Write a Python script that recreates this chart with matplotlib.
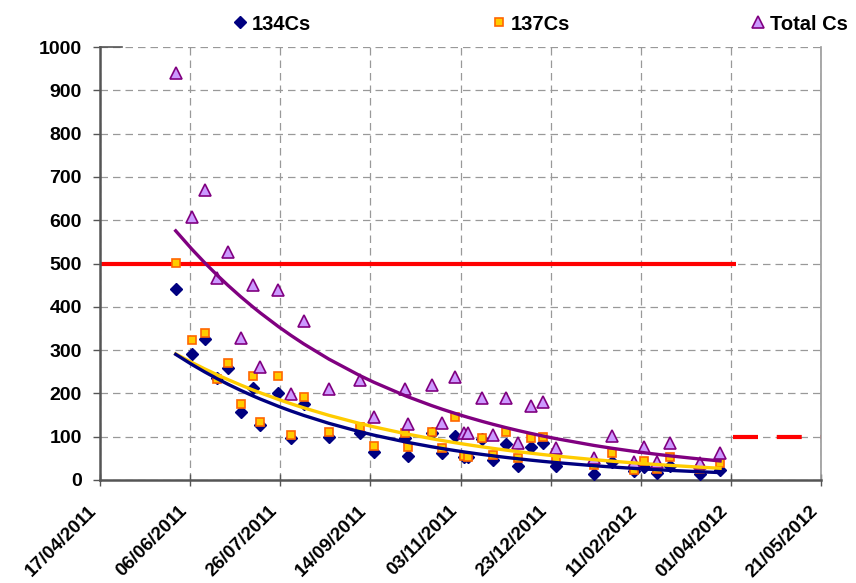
import numpy as np
import pandas as pd
import matplotlib
matplotlib.use("Agg")
import matplotlib.pyplot as plt
import matplotlib.dates as mdates

plt.rcParams["font.family"] = ["Liberation Sans", "DejaVu Sans"]
plt.rcParams["font.weight"] = "bold"

# sampling dates and activities
sample_dates = [
    "2011-05-29", "2011-06-07", "2011-06-14", "2011-06-21", "2011-06-27", "2011-07-04",
    "2011-07-11", "2011-07-15", "2011-07-25", "2011-08-01", "2011-08-08", "2011-08-22",
    "2011-09-08", "2011-09-16", "2011-10-03", "2011-10-05", "2011-10-18", "2011-10-24",
    "2011-10-31", "2011-11-05", "2011-11-07", "2011-11-15", "2011-11-21", "2011-11-28",
    "2011-12-05", "2011-12-12", "2011-12-19", "2011-12-26", "2012-01-16", "2012-01-26",
    "2012-02-07", "2012-02-13", "2012-02-20", "2012-02-27", "2012-03-15", "2012-03-26",
]
cs134 = [441, 291, 325, 235, 259, 157, 212, 127, 201, 97, 176, 99, 108, 65, 97, 55, 108, 62,
         101, 53, 54, 95, 46, 83, 33, 76, 85, 32, 14, 42, 20, 31, 17, 33, 14, 23]
cs137 = [501, 323, 340, 233, 270, 175, 240, 134, 240, 104, 192, 111, 123, 79, 109, 76, 111, 74,
         145, 55, 54, 97, 58, 111, 51, 97, 99, 48, 35, 62, 22, 45, 25, 52, 25, 39]
total_cs = [940, 607, 670, 467, 527, 328, 450, 261, 439, 198, 367, 210, 231, 146, 210, 129, 219, 131,
            238, 108, 108, 190, 104, 190, 85, 171, 180, 74, 50, 102, 42, 76, 42, 85, 39, 62]

# regulatory limits
old_limit_dates = ["2011-04-17", "2012-04-04"]
old_limit = [500, 500]
new_limit_dates = ["2012-04-02", "2012-05-21"]
new_limit = [100, 100]

tick_start = "2011-04-17"
n_ticks = 9

dates = pd.to_datetime(sample_dates)
x = mdates.date2num(dates)


def exp_trend(xv, yv):
    # same as an Excel exponential trendline: linear fit of ln(y)
    b, a = np.polyfit(xv, np.log(yv), 1)
    return np.exp(a + b * xv)


fig = plt.figure(figsize=(8.56, 5.83), dpi=100)
ax = fig.add_axes([100 / 856, 1 - 480 / 583, 721 / 856, 433 / 583])

ax.plot(pd.to_datetime(old_limit_dates), old_limit, color="#FF0000", lw=3, solid_capstyle="butt", zorder=2)
ax.plot(pd.to_datetime(new_limit_dates), new_limit, color="#FF0000", lw=3, dashes=(6, 4.5), zorder=2)

ax.plot(dates, cs134, "D", ms=6.5, color="#000080", mec="#000080", ls="none", label="134Cs", zorder=3)
ax.plot(dates, cs137, "s", ms=6, mfc="#FFCC00", mec="#FF6600", mew=1.2, ls="none", label="137Cs", zorder=4)
ax.plot(dates, total_cs, "^", ms=8, mfc="#CC99FF", mec="#800080", mew=1.2, ls="none", label="Total Cs", zorder=4)

ax.plot(dates, exp_trend(x, cs137), color="#FFCC00", lw=2.4, zorder=5)
ax.plot(dates, exp_trend(x, cs134), color="#000080", lw=2.4, zorder=5)
ax.plot(dates, exp_trend(x, total_cs), color="#800080", lw=2.4, zorder=5)

ticks = pd.date_range(tick_start, periods=n_ticks, freq="50D")
ax.set_xlim(ticks[0], ticks[-1])
ax.set_ylim(0, 1000)
ax.set_xticks(ticks)
ax.xaxis.set_major_formatter(mdates.DateFormatter("%d/%m/%Y"))
ax.set_yticks(np.arange(0, 1001, 100))
ax.grid(True, color="#999999", ls=(0, (6, 4)), lw=0.9)
ax.set_axisbelow(True)

for lab in ax.get_xticklabels():
    lab.set_rotation(45)
    lab.set_ha("right")
    lab.set_fontsize(13.5)
    lab.set_fontweight("bold")
for lab in ax.get_yticklabels():
    lab.set_fontsize(14)
    lab.set_fontweight("bold")

ax.tick_params(axis="x", direction="inout", length=8, width=1, color="#555555", pad=12)
ax.tick_params(axis="y", direction="out", length=5, width=1, color="#555555", pad=8)

for side in ["left", "bottom"]:
    ax.spines[side].set_color("#555555")
    ax.spines[side].set_linewidth(1.8)
ax.spines["right"].set_color("#999999")
ax.spines["right"].set_linewidth(1.2)
ax.spines["top"].set_color("#555555")
ax.spines["top"].set_linewidth(1.2)
ax.spines["top"].set_bounds(x.min() - 42, x.min() - 30)

leg = fig.legend(loc="center", ncol=3, mode="expand", frameon=False,
                 bbox_to_anchor=(222 / 856, 1 - 36 / 583, 634 / 856, 24 / 583),
                 handletextpad=0.1, handlelength=1.0, borderaxespad=0,
                 prop={"weight": "bold", "size": 14.5})

fig.savefig("out.png", dpi=100)
